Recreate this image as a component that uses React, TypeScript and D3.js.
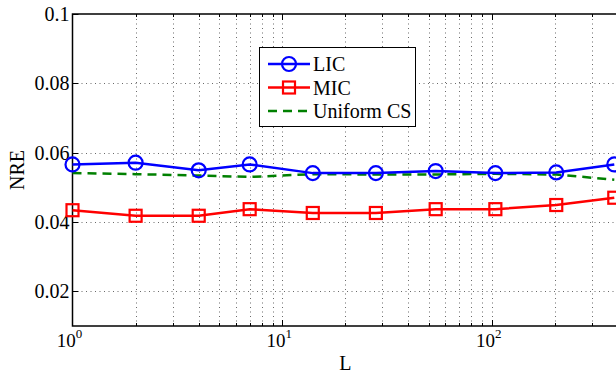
import React, { useEffect, useRef } from 'react';
import * as d3 from 'd3';

// values
const L = [1, 2, 4, 7, 14, 28, 54, 104, 203, 384];
const lic = [0.0566, 0.0571, 0.0549, 0.0566, 0.0541, 0.0541, 0.0547, 0.0541, 0.0543, 0.0566];
const mic = [0.0434, 0.0418, 0.0418, 0.0437, 0.0426, 0.0426, 0.0437, 0.0437, 0.0449, 0.047];
const uniformCS = [0.0541, 0.0538, 0.0534, 0.053, 0.0538, 0.0537, 0.0537, 0.0539, 0.0537, 0.0522];
const yTicks = [0.02, 0.04, 0.06, 0.08, 0.1];
const xMajor = [1, 10, 100];
const seriesNames = ['LIC', 'MIC', 'Uniform CS'];

const FONT = '"Liberation Serif", "Times New Roman", serif';

const App = () => {
  const svgRef = useRef<SVGSVGElement>(null);

  useEffect(() => {
    document.body.style.margin = '0';
    const width = 616;
    const height = 377;
    const margin = { top: 14, right: -2, bottom: 51, left: 72.5 };

    const svg = d3.select(svgRef.current).attr('width', width).attr('height', height);
    svg.selectAll('*').remove();

    const x = d3.scaleLog().domain([1, 400]).range([margin.left, width - margin.right]);
    const y = d3.scaleLinear().domain([0.01, 0.1]).range([height - margin.bottom, margin.top]);
    const [x0, x1] = x.range();
    const [yB, yT] = y.range();

    svg.append('rect').attr('width', width).attr('height', height).attr('fill', 'white');

    // grid
    const minor = x.ticks().filter(t => t > 1 && t < 400);
    const grid = svg.append('g').attr('stroke', '#444').attr('stroke-width', 0.8).attr('stroke-dasharray', '1,3.5');
    grid.selectAll('.gx').data(minor).enter().append('line')
      .attr('x1', d => Math.round(x(d)) + 0.5).attr('x2', d => Math.round(x(d)) + 0.5)
      .attr('y1', yB).attr('y2', yT);
    grid.selectAll('.gy').data(yTicks.filter(t => t < 0.1)).enter().append('line')
      .attr('y1', d => Math.round(y(d)) + 0.5).attr('y2', d => Math.round(y(d)) + 0.5)
      .attr('x1', x0).attr('x2', x1);

    // tick marks (inside)
    const ticks = svg.append('g').attr('stroke', 'black').attr('stroke-width', 1);
    ticks.selectAll('.ty').data(yTicks).enter().append('line')
      .attr('x1', x0).attr('x2', x0 + 6)
      .attr('y1', d => Math.round(y(d)) + 0.5).attr('y2', d => Math.round(y(d)) + 0.5);
    ticks.selectAll('.tx').data(minor).enter().append('line')
      .attr('x1', d => Math.round(x(d)) + 0.5).attr('x2', d => Math.round(x(d)) + 0.5)
      .attr('y1', yB).attr('y2', d => yB - (xMajor.includes(d) ? 6 : 3));
    ticks.selectAll('.txt').data(minor).enter().append('line')
      .attr('x1', d => Math.round(x(d)) + 0.5).attr('x2', d => Math.round(x(d)) + 0.5)
      .attr('y1', yT).attr('y2', d => yT + (xMajor.includes(d) ? 6 : 3));

    // frame
    svg.append('rect')
      .attr('x', x0).attr('y', yT).attr('width', x1 - x0).attr('height', yB - yT)
      .attr('fill', 'none').attr('stroke', 'black').attr('stroke-width', 1.5);

    // tick labels
    svg.append('g').selectAll('text').data(yTicks).enter().append('text')
      .attr('x', x0 - 3).attr('y', d => y(d) + 7)
      .attr('text-anchor', 'end').attr('font-family', FONT).attr('font-size', 20)
      .text(d => String(d));

    const xl = svg.append('g').selectAll('text').data(xMajor).enter().append('text')
      .attr('x', d => x(d) - 3).attr('y', yB + 21)
      .attr('text-anchor', 'middle').attr('font-family', FONT).attr('font-size', 19);
    xl.append('tspan').text('10');
    xl.append('tspan').attr('dy', -9).attr('font-size', 13).text(d => String(Math.round(Math.log10(d))));

    svg.append('text').attr('x', (x0 + 618) / 2).attr('y', 370)
      .attr('text-anchor', 'middle').attr('font-family', FONT).attr('font-size', 20).text('L');
    svg.append('text').attr('transform', `translate(24,${(yB + yT) / 2}) rotate(-90)`)
      .attr('text-anchor', 'middle').attr('font-family', FONT).attr('font-size', 20).text('NRE');

    // series
    const line = d3.line<number>().x((_, i) => x(L[i])).y(d => y(d));
    const plot = svg.append('g');
    plot.append('path').datum(uniformCS).attr('d', line).attr('fill', 'none')
      .attr('stroke', '#008000').attr('stroke-width', 2.5).attr('stroke-dasharray', '9,6');
    plot.append('path').datum(lic).attr('d', line).attr('fill', 'none')
      .attr('stroke', '#0000ff').attr('stroke-width', 2.5);
    plot.selectAll('.c').data(lic).enter().append('circle')
      .attr('cx', (_, i) => x(L[i])).attr('cy', d => y(d)).attr('r', 7)
      .attr('fill', 'none').attr('stroke', '#0000ff').attr('stroke-width', 2.2);
    plot.append('path').datum(mic).attr('d', line).attr('fill', 'none')
      .attr('stroke', '#ff0000').attr('stroke-width', 2.5);
    plot.selectAll('.s').data(mic).enter().append('rect')
      .attr('x', (_, i) => x(L[i]) - 6).attr('y', d => y(d) - 6).attr('width', 12).attr('height', 12)
      .attr('fill', 'none').attr('stroke', '#ff0000').attr('stroke-width', 2.2);

    // legend
    const lg = svg.append('g');
    lg.append('rect').attr('x', 259.5).attr('y', 47.5).attr('width', 156).attr('height', 79)
      .attr('fill', 'white').attr('stroke', 'black').attr('stroke-width', 1);
    const colors = ['#0000ff', '#ff0000', '#008000'];
    seriesNames.forEach((name, i) => {
      const ly = 64 + i * 23.5;
      lg.append('line').attr('x1', 268).attr('x2', 310).attr('y1', ly).attr('y2', ly)
        .attr('stroke', colors[i]).attr('stroke-width', 2.5)
        .attr('stroke-dasharray', i === 2 ? '9,6' : null);
      if (i === 0) lg.append('circle').attr('cx', 289).attr('cy', ly).attr('r', 7)
        .attr('fill', 'none').attr('stroke', colors[i]).attr('stroke-width', 2.2);
      if (i === 1) lg.append('rect').attr('x', 283).attr('y', ly - 6).attr('width', 12).attr('height', 12)
        .attr('fill', 'none').attr('stroke', colors[i]).attr('stroke-width', 2.2);
      lg.append('text').attr('x', 313).attr('y', ly + 7).attr('font-family', FONT).attr('font-size', 20).text(name);
    });
  }, []);

  return <svg ref={svgRef}></svg>;
};

export default App;
